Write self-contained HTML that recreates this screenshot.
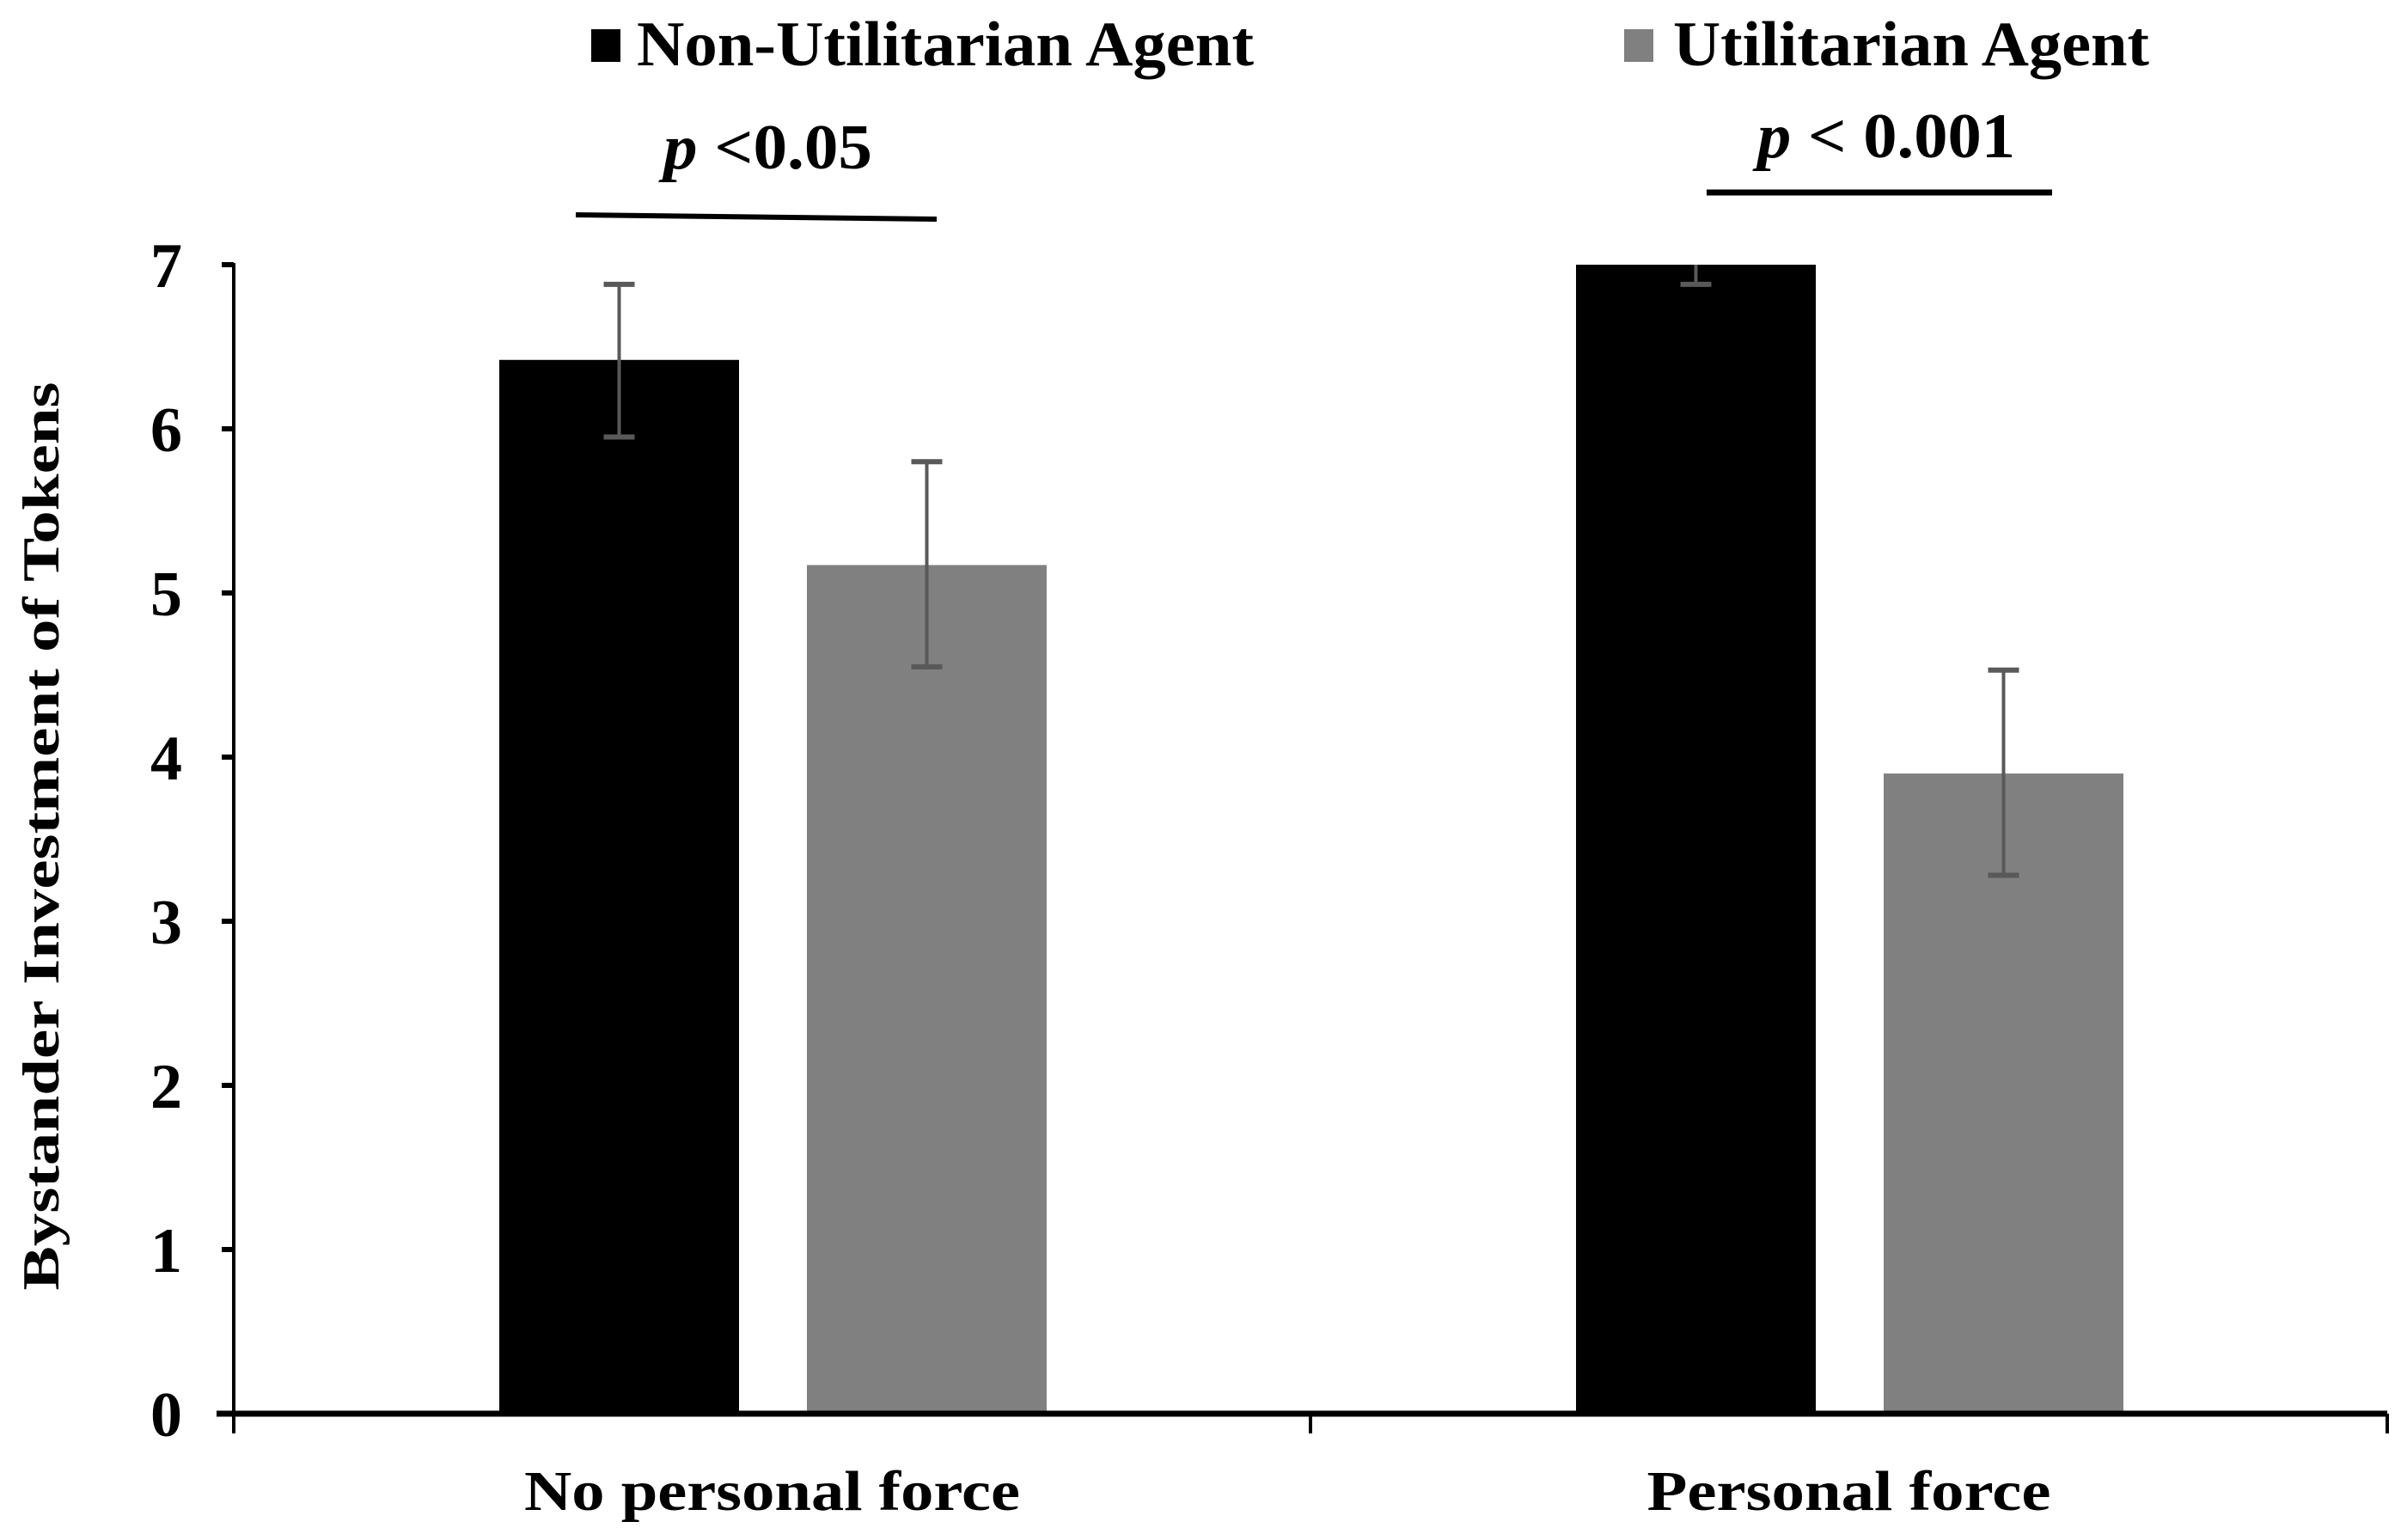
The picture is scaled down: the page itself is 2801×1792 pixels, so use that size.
<!DOCTYPE html>
<html><head><meta charset="utf-8"><style>
html,body{margin:0;padding:0;background:#fff;}
svg{display:block;font-family:"Liberation Serif",serif;font-weight:bold;}
</style></head><body>
<svg id="chart" width="2801" height="1792" viewBox="0 0 2801 1792" xmlns="http://www.w3.org/2000/svg">
<g id="legend">
  <rect x="688" y="34" width="34" height="38" fill="#000"/>
  <text x="741" y="76" font-size="74" textLength="718" lengthAdjust="spacingAndGlyphs">Non-Utilitarian Agent</text>
  <rect x="1890" y="34" width="34" height="38" fill="#808080"/>
  <text x="1947" y="76" font-size="74" textLength="554" lengthAdjust="spacingAndGlyphs">Utilitarian Agent</text>
</g>
<g>
  <text x="772" y="196" font-size="74" textLength="243" lengthAdjust="spacingAndGlyphs"><tspan font-style="italic">p</tspan> &lt;0.05</text>
  <line x1="670" y1="250" x2="1090" y2="255" stroke="#000" stroke-width="6"/>
  <text x="2045" y="183" font-size="74" textLength="300" lengthAdjust="spacingAndGlyphs"><tspan font-style="italic">p</tspan> &lt; 0.001</text>
  <line x1="1986" y1="224" x2="2388" y2="224" stroke="#000" stroke-width="7"/>
</g>
<text transform="translate(68,973) rotate(-90)" text-anchor="middle" font-size="60" textLength="1057" lengthAdjust="spacingAndGlyphs">Bystander Investment of Tokens</text>
<g id="plot"></g>
</svg>
<script>
const categories = ["No personal force", "Personal force"];
const seriesNames = ["Non-Utilitarian Agent", "Utilitarian Agent"];
const nonUtilValues = [6.42, 7.0];
const utilValues = [5.17, 3.9];
const nonUtilErrLow = [5.95, 6.88];
const nonUtilErrHigh = [6.88, 7.12];
const utilErrLow = [4.55, 3.28];
const utilErrHigh = [5.8, 4.53];
const yTicks = [0, 1, 2, 3, 4, 5, 6, 7];

const NS = "http://www.w3.org/2000/svg";
const plot = document.getElementById("plot");
const x0 = 272, x1 = 2778, yTop = 308, yBot = 1645, yMax = 7;
const y = v => yBot - (v / yMax) * (yBot - yTop);
const groupW = (x1 - x0) / categories.length;
const cx = i => x0 + groupW * (i + 0.5);
const barW = 279, offs = [-178, 180];
const colors = ["#000", "#808080"];
function mk(tag, attrs) { const e = document.createElementNS(NS, tag); for (const k in attrs) e.setAttribute(k, attrs[k]); plot.appendChild(e); return e; }

const series = [[nonUtilValues, nonUtilErrLow, nonUtilErrHigh], [utilValues, utilErrLow, utilErrHigh]];
series.forEach((s, si) => {
  categories.forEach((c, i) => {
    const bx = cx(i) + offs[si] - barW / 2;
    const b = mk("rect", { x: bx, y: y(s[0][i]), width: barW, height: yBot - y(s[0][i]), fill: colors[si] });
    
    
  });
});
series.forEach((s, si) => {
  categories.forEach((c, i) => {
    const ex = cx(i) + offs[si];
    const hi = Math.min(s[2][i], yMax);
    const l = mk("line", { x1: ex, x2: ex, y1: y(s[1][i]), y2: y(hi), stroke: "#595959", "stroke-width": 4 });
    
    
    const caps = [s[1][i]];
    if (s[2][i] <= yMax) caps.push(s[2][i]);
    caps.forEach(v => {
      const cp = mk("line", { x1: ex - 18, x2: ex + 18, y1: y(v), y2: y(v), stroke: "#595959", "stroke-width": 6 });
      
      
    });
  });
});
const ya = mk("line", { x1: x0, x2: x0, y1: yTop - 2, y2: yBot + 22, stroke: "#000", "stroke-width": 4 });


yTicks.forEach(t => {
  const tk = mk("line", { x1: x0 - 14, x2: x0, y1: y(t), y2: y(t), stroke: "#000", "stroke-width": 6 });
  
  
  const tl = mk("text", { x: 212, y: y(t) + 26, "text-anchor": "end", "font-size": 74 });
  tl.textContent = t;
  
  
});
const xa = mk("line", { x1: x0 - 20, x2: x1, y1: yBot, y2: yBot, stroke: "#000", "stroke-width": 7 });


for (let i = 0; i <= categories.length; i++) {
  const tx = x0 + groupW * i;
  const tk = mk("line", { x1: tx, x2: tx, y1: yBot, y2: yBot + 23, stroke: "#000", "stroke-width": 4 });
  
  
}
const catLen = [577, 470];
categories.forEach((c, i) => {
  const tl = mk("text", { x: cx(i), y: 1757, "text-anchor": "middle", "font-size": 66, textLength: catLen[i], lengthAdjust: "spacingAndGlyphs" });
  tl.textContent = c;
  
  
});
</script>
</body></html>
